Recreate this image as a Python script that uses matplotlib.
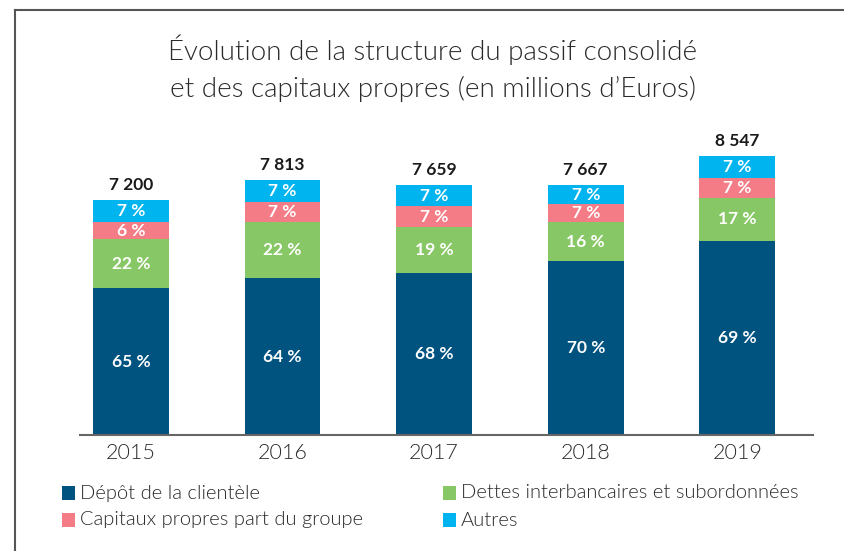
import matplotlib
matplotlib.use("Agg")
import matplotlib.pyplot as plt
from matplotlib.lines import Line2D
import numpy as np

years = ["2015", "2016", "2017", "2018", "2019"]
totals = [7200, 7813, 7659, 7667, 8547]
total_labels = ["7 200", "7 813", "7 659", "7 667", "8 547"]

# segment sizes (millions)
depot = [4500, 4810, 4980, 5340, 5966]
dettes = [1500, 1710, 1395, 1180, 1308]
capitaux = [540, 630, 650, 560, 622]
autres = [660, 663, 634, 587, 651]

# percentage labels shown in the chart
pct_depot = [65, 64, 68, 70, 69]
pct_dettes = [22, 22, 19, 16, 17]
pct_capitaux = [6, 7, 7, 7, 7]
pct_autres = [7, 7, 7, 7, 7]

series_names = ["Dépôt de la clientèle", "Dettes interbancaires et subordonnées",
                "Capitaux propres part du groupe", "Autres"]
colors = ["#00527F", "#88C766", "#F37C86", "#00B4EF"]

plt.rcParams['font.family'] = ['Lato', 'DejaVu Sans']
TXT = '#2a2a2a'
LIGHT = 300

fig = plt.figure(figsize=(8.45, 5.51), dpi=100)
W, H = 845, 551
ax = fig.add_axes([80 / W, 1 - 435 / H, (813 - 80) / W, (435 - 140) / H])

x = np.arange(len(years))
series = [depot, dettes, capitaux, autres]
pcts = [pct_depot, pct_dettes, pct_capitaux, pct_autres]
bottom = np.zeros(len(years))
for vals, pc, col in zip(series, pcts, colors):
    vals = np.array(vals, dtype=float)
    ax.bar(x, vals, width=0.5, bottom=bottom, color=col, edgecolor='none')
    for xi, b, v, p in zip(x, bottom, vals, pc):
        ax.text(xi, b + v / 2, f"{p} %", ha='center', va='center', color='white',
                fontsize=12.5, fontweight='bold')
    bottom += vals

for xi, t, lab in zip(x, bottom, total_labels):
    ax.annotate(lab, (xi, t), xytext=(0, 11), textcoords='offset points',
                ha='center', va='center', fontsize=12.5, fontweight='bold', color='#1a1a1a')

ax.set_xlim(-0.337, 4.50)
ax.set_ylim(0, 9050)
ax.set_xticks(x)
ax.set_xticklabels(years, fontsize=15.5, color=TXT, fontweight=LIGHT)
ax.tick_params(axis='x', length=0, pad=6)
ax.set_yticks([])
for s in ['top', 'right', 'left']:
    ax.spines[s].set_visible(False)
ax.spines['bottom'].set_color('#666666')
ax.spines['bottom'].set_linewidth(1.5)

fig.text(433 / W, 1 - 68 / H,
         "Évolution de la structure du passif consolidé\net des capitaux propres (en millions d’Euros)",
         ha='center', va='center', fontsize=20, fontweight=LIGHT, color=TXT,
         linespacing=1.5)

# frame lines (top and left)
fig.add_artist(Line2D([15 / W, 1], [1 - 10 / H, 1 - 10 / H], color='#555555', lw=1.5))
fig.add_artist(Line2D([15 / W, 15 / W], [0, 1 - 10 / H], color='#555555', lw=1.5))

# legend
legend_pos = [(62, 493), (443, 493), (62, 520), (443, 520)]
for (lx, ly), name, col in zip(legend_pos, series_names, colors):
    fig.add_artist(plt.Rectangle((lx / W, 1 - (ly + 7) / H), 13 / W, 14 / H,
                                 transform=fig.transFigure, facecolor=col, edgecolor='none'))
    fig.text((lx + 18) / W, 1 - ly / H, name, ha='left', va='center', fontsize=14.5,
             fontweight=LIGHT, color=TXT)

fig.savefig("out.png", dpi=100)
